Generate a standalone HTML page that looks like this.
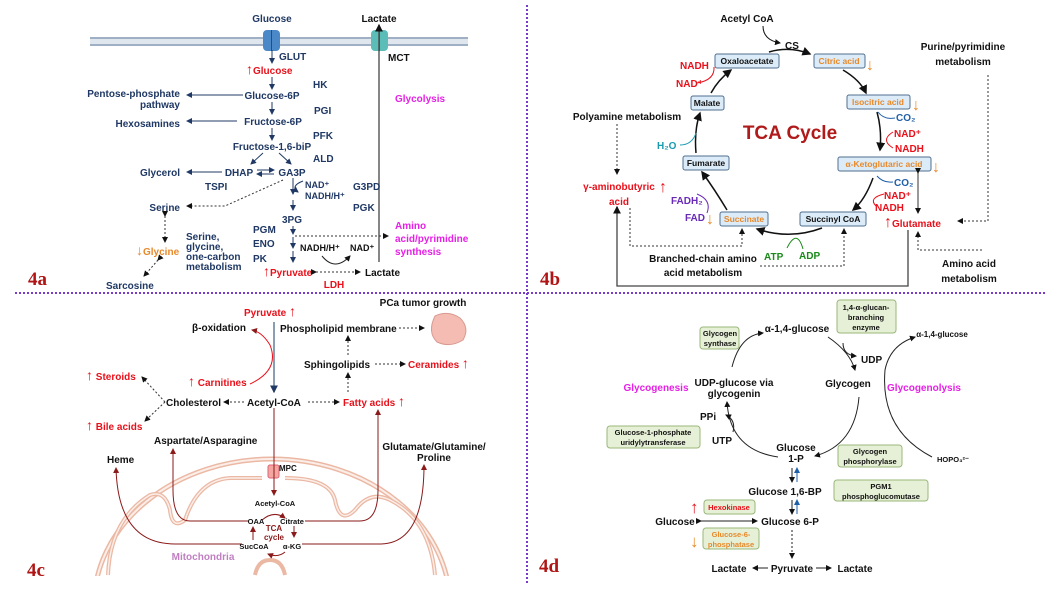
<!DOCTYPE html>
<html><head><meta charset="utf-8"><style>
html,body{margin:0;padding:0;background:#fff;width:1045px;height:589px;overflow:hidden;}
svg{display:block;font-family:"Liberation Sans",sans-serif;font-weight:bold;font-size:10px;}
.n{fill:#1f3864}
.k{fill:#111}
.r{fill:#e8111b}
.o{fill:#e8892a}
.m{fill:#e620e6}
.lab{font-family:"Liberation Serif",serif;font-size:19px;fill:#b01414;font-weight:bold}
</style></head><body>
<svg width="1045" height="589" viewBox="0 0 1045 589" xmlns="http://www.w3.org/2000/svg">
<defs>
<marker id="an" markerWidth="6" markerHeight="6" refX="5" refY="3" orient="auto"><path d="M0,0 L6,3 L0,6z" fill="#1f3864"/></marker>
<marker id="ak" markerWidth="6" markerHeight="6" refX="5" refY="3" orient="auto"><path d="M0,0 L6,3 L0,6z" fill="#111"/></marker>
<marker id="ar" markerWidth="6" markerHeight="6" refX="5" refY="3" orient="auto"><path d="M0,0 L6,3 L0,6z" fill="#8b1a1a"/></marker>
<marker id="ab" markerWidth="6" markerHeight="6" refX="5" refY="3" orient="auto"><path d="M0,0 L6,3 L0,6z" fill="#1f5fa8"/></marker>
</defs>
<!-- separators -->
<line x1="15" y1="293" x2="1045" y2="293" stroke="#7a3cc8" stroke-width="2" stroke-dasharray="2,2"/>
<line x1="527" y1="5" x2="527" y2="585" stroke="#7a3cc8" stroke-width="2" stroke-dasharray="2,2"/>

<!-- ===== 4a ===== -->
<rect x="90" y="37" width="378" height="9" fill="#dfe6ee"/>
<line x1="90" y1="38" x2="468" y2="38" stroke="#9fb0c4" stroke-width="2"/>
<line x1="90" y1="45" x2="468" y2="45" stroke="#9fb0c4" stroke-width="2"/>
<rect x="263" y="30" width="17" height="21" rx="4" fill="#4a88c8"/><line x1="271.5" y1="30" x2="271.5" y2="51" stroke="#1f4f88"/>
<rect x="371" y="30" width="17" height="21" rx="4" fill="#5bbcb8"/><line x1="379.5" y1="30" x2="379.5" y2="51" stroke="#2b7e7a"/>
<text x="272" y="22" class="n" text-anchor="middle">Glucose</text>
<text x="379" y="22" class="k" text-anchor="middle">Lactate</text>
<line x1="379" y1="262" x2="379" y2="25" stroke="#444" stroke-width="1.3" marker-end="url(#ak)"/>
<line x1="272" y1="50" x2="272" y2="63" stroke="#1f3864" marker-end="url(#an)"/>
<text x="279" y="60" class="n">GLUT</text>
<text x="388" y="61" class="k">MCT</text>
<text x="246" y="74" class="r"><tspan font-size="14">↑</tspan>Glucose</text>
<line x1="272" y1="77" x2="272" y2="89" stroke="#1f3864" marker-end="url(#an)"/>
<text x="313" y="88" class="n">HK</text>
<text x="272" y="99" class="n" text-anchor="middle">Glucose-6P</text>
<text x="180" y="97" class="n" text-anchor="end">Pentose-phosphate</text>
<text x="180" y="108" class="n" text-anchor="end">pathway</text>
<line x1="243" y1="95" x2="187" y2="95" stroke="#1f3864" marker-end="url(#an)"/>
<line x1="272" y1="102" x2="272" y2="114" stroke="#1f3864" marker-end="url(#an)"/>
<text x="314" y="114" class="n">PGI</text>
<text x="273" y="125" class="n" text-anchor="middle">Fructose-6P</text>
<text x="180" y="127" class="n" text-anchor="end">Hexosamines</text>
<line x1="237" y1="121" x2="187" y2="121" stroke="#1f3864" marker-end="url(#an)"/>
<line x1="272" y1="128" x2="272" y2="140" stroke="#1f3864" marker-end="url(#an)"/>
<text x="313" y="139" class="n">PFK</text>
<text x="272" y="150" class="n" text-anchor="middle">Fructose-1,6-biP</text>
<text x="313" y="162" class="n">ALD</text>
<line x1="263" y1="153" x2="251" y2="164" stroke="#1f3864" marker-end="url(#an)"/>
<line x1="279" y1="153" x2="291" y2="164" stroke="#1f3864" marker-end="url(#an)"/>
<text x="239" y="176" class="n" text-anchor="middle">DHAP</text>
<text x="292" y="176" class="n" text-anchor="middle">GA3P</text>
<line x1="257" y1="170" x2="274" y2="170" stroke="#1f3864" marker-end="url(#an)"/>
<line x1="274" y1="174" x2="257" y2="174" stroke="#1f3864" marker-end="url(#an)"/>
<text x="180" y="176" class="n" text-anchor="end">Glycerol</text>
<line x1="222" y1="172" x2="187" y2="172" stroke="#1f3864" marker-end="url(#an)"/>
<text x="205" y="190" class="n">TSPI</text>
<path d="M293 178 V194" stroke="#1f3864" fill="none" marker-end="url(#an)"/>
<path d="M303 181 Q290 186 298 192" stroke="#1f3864" fill="none" marker-end="url(#an)"/>
<text x="305" y="188" class="n" font-size="9">NAD⁺</text>
<text x="305" y="199" class="n" font-size="9">NADH/H⁺</text>
<text x="353" y="190" class="n">G3PD</text>
<line x1="293" y1="200" x2="293" y2="210" stroke="#1f3864" marker-end="url(#an)"/>
<text x="353" y="211" class="n">PGK</text>
<path d="M283 180 L225 206 L187 206" stroke="#333" fill="none" stroke-dasharray="2,2" marker-end="url(#ak)"/>
<text x="180" y="211" class="n" text-anchor="end">Serine</text>
<text x="292" y="223" class="n" text-anchor="middle">3PG</text>
<line x1="293" y1="226" x2="293" y2="234" stroke="#1f3864" marker-end="url(#an)"/>
<line x1="293" y1="237" x2="293" y2="248" stroke="#1f3864" marker-end="url(#an)"/>
<line x1="293" y1="251" x2="293" y2="262" stroke="#1f3864" marker-end="url(#an)"/>
<line x1="295" y1="236" x2="388" y2="236" stroke="#333" stroke-dasharray="2,2" marker-end="url(#ak)"/>
<text x="253" y="233" class="n">PGM</text>
<text x="253" y="247" class="n">ENO</text>
<text x="253" y="262" class="n">PK</text>
<line x1="165" y1="216" x2="165" y2="242" stroke="#333" stroke-dasharray="2,2" marker-end="url(#ak)" marker-start="url(#ak)"/>
<text x="136" y="255" class="o"><tspan font-size="14">↓</tspan>Glycine</text>
<text x="186" y="240" class="n">Serine,</text>
<text x="186" y="250" class="n">glycine,</text>
<text x="186" y="260" class="n">one-carbon</text>
<text x="186" y="270" class="n">metabolism</text>
<line x1="158" y1="260" x2="144" y2="276" stroke="#333" stroke-dasharray="2,2" marker-end="url(#ak)" marker-start="url(#ak)"/>
<text x="106" y="289" class="n">Sarcosine</text>
<text x="300" y="251" class="k" font-size="9">NADH/H⁺</text>
<text x="350" y="251" class="k" font-size="9">NAD⁺</text>
<path d="M322 256 Q335 272 350 256" stroke="#222" fill="none" marker-end="url(#ak)"/>
<text x="263" y="276" class="r"><tspan font-size="14">↑</tspan>Pyruvate</text>
<line x1="316" y1="272" x2="360" y2="272" stroke="#333" stroke-dasharray="2,2" marker-end="url(#ak)" marker-start="url(#ak)"/>
<text x="365" y="276" class="k">Lactate</text>
<text x="334" y="288" class="r" text-anchor="middle">LDH</text>
<text x="395" y="102" class="m">Glycolysis</text>
<text x="395" y="229" class="m">Amino</text>
<text x="395" y="242" class="m">acid/pyrimidine</text>
<text x="395" y="255" class="m">synthesis</text>
<text x="28" y="285" class="lab">4a</text>

<!-- ===== 4b ===== -->
<g>
<rect x="715" y="54" width="64" height="14" rx="2" fill="#dcebf8" stroke="#4f6f8f"/><text x="747" y="64" class="k" font-size="8.5" text-anchor="middle">Oxaloacetate</text>
<rect x="814" y="54" width="51" height="14" rx="2" fill="#dcebf8" stroke="#4f6f8f"/><text x="839" y="64" class="o" font-size="8.5" text-anchor="middle">Citric acid</text>
<rect x="847" y="95" width="63" height="14" rx="2" fill="#dcebf8" stroke="#4f6f8f"/><text x="878" y="105" class="o" font-size="8.5" text-anchor="middle">Isocitric acid</text>
<rect x="838" y="157" width="93" height="14" rx="2" fill="#dcebf8" stroke="#4f6f8f"/><text x="884" y="167" class="o" font-size="8.5" text-anchor="middle">α-Ketoglutaric acid</text>
<rect x="800" y="212" width="66" height="14" rx="2" fill="#dcebf8" stroke="#4f6f8f"/><text x="833" y="222" class="k" font-size="8.5" text-anchor="middle">Succinyl CoA</text>
<rect x="720" y="212" width="48" height="14" rx="2" fill="#dcebf8" stroke="#4f6f8f"/><text x="744" y="222" class="o" font-size="8.5" text-anchor="middle">Succinate</text>
<rect x="683" y="156" width="46" height="14" rx="2" fill="#dcebf8" stroke="#4f6f8f"/><text x="706" y="166" class="k" font-size="8.5" text-anchor="middle">Fumarate</text>
<rect x="691" y="96" width="33" height="14" rx="2" fill="#dcebf8" stroke="#4f6f8f"/><text x="707" y="106" class="k" font-size="8.5" text-anchor="middle">Malate</text>
</g>
<g stroke="#111" stroke-width="1.5" fill="none">
<path d="M769 52 Q790 46 810 54" marker-end="url(#ak)"/>
<path d="M843 70 Q860 80 866 93" marker-end="url(#ak)"/>
<path d="M877 112 Q882 130 880 150" marker-end="url(#ak)"/>
<path d="M873 178 Q865 200 853 210" marker-end="url(#ak)"/>
<path d="M822 228 Q790 240 757 229" marker-end="url(#ak)"/>
<path d="M727 210 Q715 190 702 172" marker-end="url(#ak)"/>
<path d="M696 153 Q694 130 700 113" marker-end="url(#ak)"/>
<path d="M711 93 Q718 80 731 70" marker-end="url(#ak)"/>
</g>
<text x="747" y="22" class="k" text-anchor="middle">Acetyl CoA</text>
<path d="M763 26 Q763 40 780 43" stroke="#111" fill="none" marker-end="url(#ak)"/>
<text x="792" y="49" class="k" text-anchor="middle">CS</text>
<text x="790" y="139" fill="#b01a1a" font-size="19" text-anchor="middle">TCA Cycle</text>
<text x="680" y="69" class="r">NADH</text>
<text x="676" y="87" class="r">NAD⁺</text>
<path d="M697 83 Q715 80 714 67" stroke="#e8111b" fill="none"/>
<text x="627" y="120" class="k" text-anchor="middle">Polyamine metabolism</text>
<line x1="617" y1="124" x2="617" y2="174" stroke="#333" stroke-dasharray="2,2" marker-end="url(#ak)"/>
<text x="657" y="149" fill="#1a9ab0">H₂O</text>
<path d="M680 145 Q692 145 696 133" stroke="#1a9ab0" fill="none"/>
<text x="619" y="190" class="r" text-anchor="middle">γ-aminobutyric</text>
<text x="619" y="205" class="r" text-anchor="middle">acid</text>
<text x="659" y="192" class="r" font-size="16">↑</text>
<text x="671" y="204" fill="#6a2ab8">FADH₂</text>
<text x="685" y="221" fill="#6a2ab8">FAD</text>
<path d="M697 194 Q712 200 707 213" stroke="#6a2ab8" fill="none"/>
<text x="706" y="224" class="o" font-size="16">↓</text>
<text x="866" y="70" class="o" font-size="16">↓</text>
<text x="912" y="110" class="o" font-size="16">↓</text>
<text x="932" y="172" class="o" font-size="16">↓</text>
<text x="896" y="121" fill="#1f5fa8">CO₂</text>
<path d="M878 112 Q884 120 895 118" stroke="#1f5fa8" fill="none"/>
<text x="894" y="137" class="r">NAD⁺</text>
<text x="895" y="152" class="r">NADH</text>
<path d="M893 132 Q880 140 893 148" stroke="#e8111b" fill="none"/>
<text x="894" y="186" fill="#1f5fa8">CO₂</text>
<path d="M877 176 Q883 183 893 182" stroke="#1f5fa8" fill="none"/>
<text x="884" y="199" class="r">NAD⁺</text>
<text x="875" y="211" class="r">NADH</text>
<path d="M884 194 Q868 198 876 206" stroke="#e8111b" fill="none"/>
<text x="884" y="227" class="r"><tspan font-size="16">↑</tspan>Glutamate</text>
<line x1="918" y1="173" x2="918" y2="213" stroke="#333" marker-end="url(#ak)" marker-start="url(#ak)"/>
<text x="963" y="50" class="k" text-anchor="middle">Purine/pyrimidine</text>
<text x="963" y="65" class="k" text-anchor="middle">metabolism</text>
<path d="M988 75 V221 H958" stroke="#333" fill="none" stroke-dasharray="2,2" marker-end="url(#ak)"/>
<text x="969" y="267" class="k" text-anchor="middle">Amino acid</text>
<text x="969" y="282" class="k" text-anchor="middle">metabolism</text>
<path d="M982 250 H918 V232" stroke="#333" fill="none" stroke-dasharray="2,2" marker-end="url(#ak)"/>
<path d="M908 230 V286 H617 V207" stroke="#444" stroke-width="1.3" fill="none" marker-end="url(#ak)"/>
<text x="764" y="260" fill="#1a8a1a">ATP</text>
<text x="799" y="259" fill="#1a8a1a">ADP</text>
<path d="M803 249 Q797 228 787 248" stroke="#1a8a1a" fill="none"/>
<text x="703" y="262" class="k" text-anchor="middle">Branched-chain amino</text>
<text x="703" y="276" class="k" text-anchor="middle">acid metabolism</text>
<path d="M630 208 V246 H742 V229" stroke="#333" fill="none" stroke-dasharray="2,2" marker-end="url(#ak)"/>
<path d="M760 266 H844 V229" stroke="#333" fill="none" stroke-dasharray="2,2" marker-end="url(#ak)"/>
<text x="540" y="285" class="lab">4b</text>

<!-- ===== 4c ===== -->
<defs><clipPath id="cm"><rect x="0" y="420" width="520" height="156"/></clipPath></defs>
<g clip-path="url(#cm)" fill="none">
<ellipse cx="272" cy="605" rx="178" ry="146" stroke="#ebb8a4" stroke-width="5"/>
<ellipse cx="272" cy="605" rx="178" ry="146" stroke="#fbeee8" stroke-width="2"/>
<path d="M108 575 Q110 520 150 495 Q165 490 170 510 Q172 530 185 520 Q198 480 230 478 L262 478 M285 478 Q330 478 335 500 Q340 525 355 510 Q370 490 390 500 Q430 520 435 575" stroke="#ebb8a4" stroke-width="4"/>
<path d="M108 575 Q110 520 150 495 Q165 490 170 510 Q172 530 185 520 Q198 480 230 478 L262 478 M285 478 Q330 478 335 500 Q340 525 355 510 Q370 490 390 500 Q430 520 435 575" stroke="#fbeee8" stroke-width="1.5"/>
<path d="M255 575 Q258 560 270 560 Q282 560 285 575" stroke="#ebb8a4" stroke-width="4"/>
</g>
<rect x="268" y="465" width="11" height="13" rx="2" fill="#f3a7a0" stroke="#d67"/>
<text x="279" y="471" fill="#111" font-size="8">MPC</text>
<text x="270" y="316" class="r" text-anchor="middle">Pyruvate <tspan font-size="14">↑</tspan></text>
<text x="219" y="331" class="k" text-anchor="middle">β-oxidation</text>
<text x="280" y="332" class="k">Phospholipid membrane</text>
<text x="423" y="306" class="k" text-anchor="middle">PCa tumor growth</text>
<path d="M435 316 Q448 310 460 318 Q470 328 463 340 Q450 348 437 342 Q427 332 435 316z" fill="#f4bcb2" stroke="#d89a90"/>
<line x1="399" y1="328" x2="424" y2="328" stroke="#333" stroke-dasharray="2,2" marker-end="url(#ak)"/>
<line x1="274" y1="322" x2="274" y2="392" stroke="#4a6a88" stroke-width="1.3" marker-end="url(#an)"/>
<path d="M250 384 Q280 370 270 345 Q262 332 252 330" stroke="#e8111b" fill="none" marker-end="url(#ar)"/>
<text x="337" y="368" class="k" text-anchor="middle">Sphingolipids</text>
<line x1="375" y1="364" x2="405" y2="364" stroke="#333" stroke-dasharray="2,2" marker-end="url(#ak)"/>
<text x="408" y="368" class="r">Ceramides <tspan font-size="14">↑</tspan></text>
<line x1="348" y1="355" x2="348" y2="336" stroke="#333" stroke-dasharray="2,2" marker-end="url(#ak)"/>
<line x1="348" y1="392" x2="348" y2="373" stroke="#333" stroke-dasharray="2,2" marker-end="url(#ak)"/>
<text x="86" y="380" class="r"><tspan font-size="14">↑</tspan> Steroids</text>
<text x="188" y="386" class="r"><tspan font-size="14">↑</tspan> Carnitines</text>
<text x="166" y="406" class="k">Cholesterol</text>
<text x="247" y="406" class="k">Acetyl-CoA</text>
<text x="343" y="406" class="r">Fatty acids <tspan font-size="14">↑</tspan></text>
<line x1="244" y1="402" x2="224" y2="402" stroke="#333" stroke-dasharray="2,2" marker-end="url(#ak)"/>
<line x1="308" y1="402" x2="339" y2="402" stroke="#333" stroke-dasharray="2,2" marker-end="url(#ak)"/>
<path d="M165 402 L142 377" stroke="#333" fill="none" stroke-dasharray="2,2" marker-end="url(#ak)"/>
<path d="M165 402 L145 421" stroke="#333" fill="none" stroke-dasharray="2,2" marker-end="url(#ak)"/>
<text x="86" y="430" class="r"><tspan font-size="14">↑</tspan> Bile acids</text>
<text x="154" y="444" class="k">Aspartate/Asparagine</text>
<text x="107" y="463" class="k">Heme</text>
<text x="434" y="450" class="k" text-anchor="middle">Glutamate/Glutamine/</text>
<text x="434" y="461" class="k" text-anchor="middle">Proline</text>
<g stroke="#8b1a1a" fill="none" stroke-width="1">
<line x1="274" y1="408" x2="274" y2="495" marker-end="url(#ar)"/>
<path d="M248 521 H190 Q173 521 173 490 V449" marker-end="url(#ar)"/>
<path d="M242 544 H175 Q118 544 116 468" marker-end="url(#ar)"/>
<path d="M305 521 H360 Q378 521 378 490 V410" marker-end="url(#ar)"/>
<path d="M302 544 H380 Q424 544 424 465" marker-end="url(#ar)"/>
<path d="M262 520 Q274 510 285 518" marker-end="url(#ar)"/>
<path d="M294 526 V537" marker-end="url(#ar)"/>
<path d="M285 552 Q278 558 268 554" marker-end="url(#ar)"/>
<path d="M253 540 V527" marker-end="url(#ar)"/>
</g>
<text x="275" y="506" class="k" font-size="7.5" text-anchor="middle">Acetyl-CoA</text>
<text x="256" y="524" class="k" font-size="7.5" text-anchor="middle">OAA</text>
<text x="292" y="524" class="k" font-size="7.5" text-anchor="middle">Citrate</text>
<text x="274" y="531" fill="#8b1a1a" font-size="8" text-anchor="middle">TCA</text>
<text x="274" y="540" fill="#8b1a1a" font-size="8" text-anchor="middle">cycle</text>
<text x="254" y="549" class="k" font-size="7.5" text-anchor="middle">SucCoA</text>
<text x="292" y="549" class="k" font-size="7.5" text-anchor="middle">α-KG</text>
<text x="203" y="560" fill="#c080c0" text-anchor="middle">Mitochondria</text>
<text x="27" y="576" class="lab">4c</text>

<!-- ===== 4d ===== -->
<g fill="#e6f0d6" stroke="#9ab77a">
<rect x="837" y="300" width="59" height="33" rx="3"/>
<rect x="700" y="327" width="39" height="22" rx="3"/>
<rect x="607" y="426" width="93" height="22" rx="3"/>
<rect x="838" y="445" width="64" height="22" rx="3"/>
<rect x="834" y="480" width="94" height="21" rx="3"/>
<rect x="704" y="500" width="51" height="14" rx="3"/>
<rect x="703" y="528" width="56" height="21" rx="3"/>
</g>
<g font-size="7.5" fill="#111" text-anchor="middle">
<text x="866" y="310">1,4-α-glucan-</text><text x="866" y="320">branching</text><text x="866" y="330">enzyme</text>
<text x="720" y="336">Glycogen</text><text x="720" y="346">synthase</text>
<text x="653" y="435">Glucose-1-phosphate</text><text x="653" y="445">uridylytransferase</text>
<text x="870" y="454">Glycogen</text><text x="870" y="464">phosphorylase</text>
<text x="881" y="489">PGM1</text><text x="881" y="499">phosphoglucomutase</text>
<text x="729" y="510" fill="#e8111b">Hexokinase</text>
<text x="731" y="537" fill="#e8892a">Glucose-6-</text><text x="731" y="547" fill="#e8892a">phosphatase</text>
</g>
<text x="797" y="332" class="k" text-anchor="middle">α-1,4-glucose</text>
<text x="942" y="337" class="k" font-size="8" text-anchor="middle">α-1,4-glucose</text>
<text x="861" y="363" class="k">UDP</text>
<text x="848" y="387" class="k" text-anchor="middle">Glycogen</text>
<text x="656" y="391" class="m" text-anchor="middle">Glycogenesis</text>
<text x="734" y="386" class="k" text-anchor="middle">UDP-glucose via</text>
<text x="734" y="397" class="k" text-anchor="middle">glycogenin</text>
<text x="924" y="391" class="m" text-anchor="middle">Glycogenolysis</text>
<text x="700" y="420" class="k">PPi</text>
<text x="712" y="444" class="k">UTP</text>
<text x="796" y="451" class="k" text-anchor="middle">Glucose</text>
<text x="796" y="462" class="k" text-anchor="middle">1-P</text>
<text x="953" y="462" class="k" font-size="7.5" text-anchor="middle">HOPO₃²⁻</text>
<text x="785" y="495" class="k" text-anchor="middle">Glucose 1,6-BP</text>
<text x="675" y="525" class="k" text-anchor="middle">Glucose</text>
<text x="790" y="525" class="k" text-anchor="middle">Glucose 6-P</text>
<text x="729" y="572" class="k" text-anchor="middle">Lactate</text>
<text x="792" y="572" class="k" text-anchor="middle">Pyruvate</text>
<text x="855" y="572" class="k" text-anchor="middle">Lactate</text>
<g stroke="#222" fill="none">
<path d="M732 367 Q740 335 763 333" marker-end="url(#ak)"/>
<path d="M828 337 Q850 352 855 370" marker-end="url(#ak)"/>
<path d="M843 343 Q843 355 856 356" marker-end="url(#ak)"/>
<path d="M859 397 Q855 445 815 456" marker-end="url(#ak)"/>
<path d="M778 457 Q730 450 727 402" marker-end="url(#ak)"/>
<path d="M733 432 Q736 420 726 415" marker-end="url(#ak)"/>
<path d="M932 457 Q880 430 885 370 Q890 345 915 337" marker-end="url(#ak)"/>
<line x1="792" y1="468" x2="792" y2="482" marker-end="url(#ak)"/>
<line x1="792" y1="500" x2="792" y2="514" marker-end="url(#ak)"/>
<line x1="701" y1="521" x2="757" y2="521" marker-end="url(#ak)" marker-start="url(#ak)"/>
<line x1="792" y1="530" x2="792" y2="558" stroke-dasharray="2,2" marker-end="url(#ak)"/>
<line x1="768" y1="568" x2="753" y2="568" marker-end="url(#ak)"/>
<line x1="816" y1="568" x2="831" y2="568" marker-end="url(#ak)"/>
</g>
<line x1="797" y1="482" x2="797" y2="468" stroke="#1f5fa8" marker-end="url(#ab)"/>
<line x1="797" y1="514" x2="797" y2="500" stroke="#1f5fa8" marker-end="url(#ab)"/>
<text x="690" y="513" class="r" font-size="17">↑</text>
<text x="690" y="547" class="o" font-size="17">↓</text>
<text x="539" y="572" class="lab">4d</text>
</svg>
</body></html>
